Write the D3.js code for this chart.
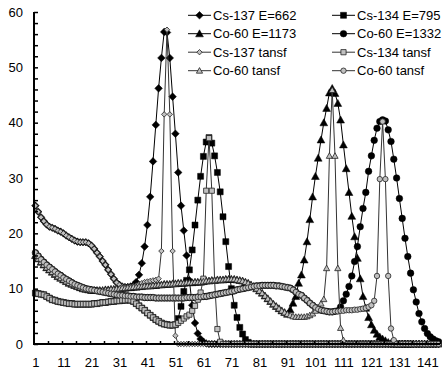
<!DOCTYPE html>
<html>
<head>
<meta charset="utf-8">
<title>Spectra</title>
<script src="https://cdn.jsdelivr.net/npm/d3@7"></script>
<style>
  body { margin: 0; background: #fff; }
  text { font-family: "Liberation Sans", Arial, sans-serif; font-size: 13px; fill: #000; }
</style>
</head>
<body>
<svg id="chart" width="442" height="374"></svg>
<script>
// channel numbers (categories)
const channels = d3.range(1, 146);
const xTickLabels = [1, 11, 21, 31, 41, 51, 61, 71, 81, 91, 101, 111, 121, 131, 141];
const yTicks = [0, 10, 20, 30, 40, 50, 60];

// series values, channel 1..145
const cs137 = [25.0,23.9,22.9,22.2,21.6,21.2,21.0,20.8,20.5,20.3, 20.0,19.6,19.3,19.0,18.7,18.5,18.4,18.4,18.4,18.2,
  17.8,17.2,16.5,15.8,15.0,14.3,13.4,12.6,11.8,11.1, 10.7,10.4,10.3,10.3,10.4,10.6,11.2,12.5,14.6,17.6,
  21.5,26.6,33.0,39.6,46.2,51.7,56.4,56.3,51.7,44.7, 38.0,31.0,25.0,20.5,16.0,11.5,7.0,3.8,1.9,0.9,
  0.4,0.1,0,0,0,0,0,0,0,0, 0,0,0,0,0,0,0,0,0,0, 0,0,0,0,0,0,0,0,0,0, 0,0,0,0,0,0,0,0,0,0,
  0,0,0,0,0,0,0,0,0,0, 0,0,0,0,0,0,0,0,0,0, 0,0,0,0,0,0,0,0,0,0, 0,0,0,0,0,0,0,0,0,0, 0,0,0,0,0];
const cs134 = [9.2,9.1,9.0,8.9,8.6,8.3,8.0,7.9,7.7,7.6, 7.5,7.4,7.3,7.3,7.2,7.2,7.2,7.2,7.2,7.2,
  7.2,7.3,7.3,7.4,7.5,7.5,7.6,7.7,7.7,7.8, 7.8,7.9,7.9,8.0,7.9,7.7,7.3,6.9,6.5,6.1,
  5.6,5.2,4.8,4.4,4.1,3.8,3.6,3.5,3.4,3.4, 3.5,4.6,6.8,9.5,11.5,13.4,17.0,21.5,26.0,30.3,
  33.9,36.5,37.3,36.3,34.0,31.0,27.5,23.0,18.5,14.0, 10.0,7.0,4.8,3.0,1.8,0.8,0.3,0,0,0,
  0,0,0,0,0,0,0,0,0,0, 0,0,0,0,0,0,0,0,0,0, 0,0,0,0,0,0,0,0,0,0, 0,0,0,0,0,0,0,0,0,0,
  0,0,0,0,0,0,0,0,0,0, 0,0,0,0,0];
const co1173 = [16.0,15.4,14.8,14.3,13.8,13.4,13.0,12.6,12.2,11.9, 11.6,11.3,11.0,10.8,10.6,10.4,10.2,10.0,9.9,9.8,
  9.7,9.7,9.7,9.7,9.7,9.8,9.8,9.9,9.9,10.0, 10.0,10.1,10.1,10.2,10.2,10.3,10.3,10.4,10.4,10.5,
  10.5,10.5,10.6,10.6,10.7,10.7,10.8,10.8,10.8,10.9, 10.9,11.0,11.0,11.0,11.1,11.1,11.1,11.2,11.2,11.2,
  11.3,11.4,11.4,11.5,11.5,11.6,11.6,11.6,11.7,11.7, 11.7,11.7,11.6,11.5,11.4,11.2,11.0,10.7,10.4,10.0,
  9.6,9.2,8.7,8.2,7.7,7.2,6.8,6.4,6.0,5.7, 5.4,6.2,7.4,8.6,11.0,12.5,15.2,18.5,22.5,26.6,
  30.3,33.6,36.9,40.0,42.6,45.4,46.2,45.3,43.5,40.5, 36.0,31.7,27.4,23.1,19.4,15.5,11.8,8.6,6.5,4.8,
  3.5,2.5,1.8,1.3,0.9,0.6,0.3,0.1,0,0, 0,0,0,0,0,0,0,0,0,0, 0,0,0,0,0];
const co1332 = [16.5,15.9,15.3,14.8,14.3,13.9,13.5,13.1,12.7,12.4, 12.0,11.7,11.4,11.1,10.8,10.6,10.4,10.2,10.0,9.9,
  9.8,9.7,9.6,9.5,9.4,9.3,9.2,9.1,9.0,8.9, 8.8,8.8,8.7,8.7,8.6,8.6,8.5,8.5,8.5,8.4,
  8.4,8.4,8.4,8.3,8.3,8.3,8.3,8.3,8.3,8.3, 8.3,8.3,8.3,8.3,8.4,8.4,8.4,8.4,8.5,8.5,
  8.6,8.6,8.7,8.8,8.9,9.0,9.1,9.2,9.3,9.4, 9.5,9.6,9.8,9.9,10.0,10.1,10.2,10.3,10.4,10.5,
  10.5,10.6,10.6,10.6,10.6,10.6,10.5,10.5,10.4,10.3, 10.2,10.1,9.8,9.4,9.0,8.8,8.3,7.9,7.4,7.0,
  6.6,6.3,6.1,6.0,5.9,5.8,5.8,5.9,6.0,6.7, 7.8,9.0,10.4,12.3,14.9,17.6,21.2,24.5,27.4,31.2,
  34.0,36.8,39.0,40.2,40.5,40.3,38.7,36.6,33.4,30.0, 26.3,22.7,19.1,15.8,12.8,9.8,7.6,5.5,4.0,2.8,
  1.9,1.3,0.9,0.6,0.4];
const cs137t = [25.0,23.9,22.9,22.2,21.6,21.2,21.0,20.8,20.5,20.3, 20.0,19.6,19.3,19.0,18.7,18.5,18.4,18.4,18.4,18.2,
  17.8,17.2,16.5,15.8,15.0,14.3,13.4,12.6,11.8,11.1, 10.7,10.4,10.3,10.3,10.4,10.5,10.6,10.8,11.0,11.2,
  11.3,11.4,11.5,11.6,11.8,16.8,41.5,56.8,41.5,16.8, 1.5,0,0,0,0,0,0,0,0,0,
  0,0,0,0,0,0,0,0,0,0, 0,0,0,0,0,0,0,0,0,0, 0,0,0,0,0,0,0,0,0,0, 0,0,0,0,0,0,0,0,0,0,
  0,0,0,0,0,0,0,0,0,0, 0,0,0,0,0,0,0,0,0,0, 0,0,0,0,0,0,0,0,0,0, 0,0,0,0,0,0,0,0,0,0, 0,0,0,0,0];
const cs134t = [9.2,9.1,9.0,8.9,8.6,8.3,8.0,7.9,7.7,7.6, 7.5,7.4,7.3,7.3,7.2,7.2,7.2,7.2,7.2,7.2,
  7.2,7.3,7.3,7.4,7.5,7.5,7.6,7.7,7.7,7.8, 7.8,7.9,7.9,8.0,7.9,7.7,7.3,6.9,6.5,6.1,
  5.6,5.2,4.8,4.4,4.1,3.8,3.6,3.5,3.4,3.4, 3.5,3.8,4.2,4.6,5.0,5.3,6.0,6.9,8.0,9.3,
  11.8,27.7,37.2,27.7,11.4,2.7,0.4,0,0,0, 0,0,0,0,0,0,0,0,0,0, 0,0,0,0,0,0,0,0,0,0,
  0,0,0,0,0,0,0,0,0,0, 0,0,0,0,0,0,0,0,0,0, 0,0,0,0,0,0,0,0,0,0, 0,0,0,0,0,0,0,0,0,0,
  0,0,0,0,0,0,0,0,0,0, 0,0,0,0,0];
const co1173t = [16.0,15.4,14.8,14.3,13.8,13.4,13.0,12.6,12.2,11.9, 11.6,11.3,11.0,10.8,10.6,10.4,10.2,10.0,9.9,9.8,
  9.7,9.7,9.7,9.7,9.7,9.8,9.8,9.9,9.9,10.0, 10.0,10.1,10.1,10.2,10.2,10.3,10.3,10.4,10.4,10.5,
  10.5,10.5,10.6,10.6,10.7,10.7,10.8,10.8,10.8,10.9, 10.9,11.0,11.0,11.0,11.1,11.1,11.1,11.2,11.2,11.2,
  11.3,11.4,11.4,11.5,11.5,11.6,11.6,11.6,11.7,11.7, 11.7,11.7,11.6,11.5,11.4,11.2,11.0,10.7,10.4,10.0,
  9.6,9.2,8.7,8.2,7.7,7.2,6.8,6.4,6.0,5.7, 5.4,5.2,5.0,4.9,4.9,4.9,4.9,5.0,5.2,5.5,
  6.0,6.6,7.3,8.1,13.7,34.0,45.9,34.0,13.7,2.9, 0.7,0,0,0,0,0,0,0,0,0,
  0,0,0,0,0,0,0,0,0,0, 0,0,0,0,0,0,0,0,0,0, 0,0,0,0,0];
const co1332t = [16.5,15.9,15.3,14.8,14.3,13.9,13.5,13.1,12.7,12.4, 12.0,11.7,11.4,11.1,10.8,10.6,10.4,10.2,10.0,9.9,
  9.8,9.7,9.6,9.5,9.4,9.3,9.2,9.1,9.0,8.9, 8.8,8.8,8.7,8.7,8.6,8.6,8.5,8.5,8.5,8.4,
  8.4,8.4,8.4,8.3,8.3,8.3,8.3,8.3,8.3,8.3, 8.3,8.3,8.3,8.3,8.4,8.4,8.4,8.4,8.5,8.5,
  8.6,8.6,8.7,8.8,8.9,9.0,9.1,9.2,9.3,9.4, 9.5,9.6,9.8,9.9,10.0,10.1,10.2,10.3,10.4,10.5,
  10.5,10.6,10.6,10.6,10.6,10.6,10.5,10.5,10.4,10.3, 10.2,10.1,9.8,9.4,9.0,8.8,8.3,7.9,7.4,7.0,
  6.6,6.3,6.1,6.0,5.9,5.8,5.8,5.9,5.9,6.0, 6.0,6.1,6.1,6.1,6.2,6.2,6.3,6.4,6.5,6.7,
  7.0,7.8,12.3,29.8,40.2,29.8,12.3,2.8,0.7,0, 0,0,0,0,0,0,0,0,0,0, 0,0,0,0,0];

const seriesNames = ["Cs-137 E=662", "Cs-134 E=795", "Co-60 E=1173", "Co-60 E=1332",
  "Cs-137 tansf", "Cs-134 tansf", "Co-60 tansf", "Co-60 tansf"];
const seriesValues = [cs137, cs134, co1173, co1332, cs137t, cs134t, co1173t, co1332t];
const seriesShapes = ["diamond", "square", "triangle", "circle", "diamond", "square", "triangle", "circle"];

// page elements
const svg = d3.select("#chart");
const margin = { top: 12, right: 2, bottom: 30, left: 34 };

const x = d3.scaleLinear()
  .domain([0.5, channels.length + 0.5])
  .range([margin.left, margin.left + channels.length * 2.8]);
const y = d3.scaleLinear()
  .domain([0, 60])
  .range([344, 12]);

function markerPath(shape, s) {
  if (shape == "diamond") return "M0," + (-s) + "L" + s + ",0L0," + s + "L" + (-s) + ",0Z";
  if (shape == "square") return "M" + (-s) + "," + (-s) + "H" + s + "V" + s + "H" + (-s) + "Z";
  if (shape == "triangle") return "M0," + (-s) + "L" + s + "," + (s * 0.8) + "L" + (-s) + "," + (s * 0.8) + "Z";
  return d3.symbol(d3.symbolCircle, Math.PI * s * s)();
}
const blackSize = { diamond: 3.8, square: 3.0, triangle: 3.9, circle: 3.3 };
const greySize = { diamond: 2.7, square: 2.6, triangle: 3.1, circle: 2.7 };

function styleFor(i) {
  const tansf = i >= 4;
  const shape = seriesShapes[i];
  return {
    path: markerPath(shape, tansf ? greySize[shape] : blackSize[shape]),
    fill: tansf ? "#c0c0c0" : "#000",
    stroke: tansf ? "#222" : "#000",
    strokeWidth: tansf ? 0.8 : 0.5,
    line: tansf ? "#333" : "#000"
  };
}

const line = d3.line()
  .x(function(d, i) { return x(channels[i]); })
  .y(function(d) { return y(d); });

const plot = svg.append("g");
seriesValues.forEach(function(vals, i) {
  const st = styleFor(i);
  const g = plot.append("g");
  g.append("path")
    .attr("d", line(vals))
    .attr("fill", "none")
    .attr("stroke", st.line)
    .attr("stroke-width", 1);
  g.selectAll("path.m")
    .data(vals)
    .enter().append("path")
      .classed("m", true)
      .attr("d", st.path)
      .attr("transform", function(d, j) { return "translate(" + x(channels[j]) + "," + y(d) + ")"; })
      .attr("fill", st.fill)
      .attr("stroke", st.stroke)
      .attr("stroke-width", st.strokeWidth);
});

// axes
const xTickMarks = channels.filter(function(c) { return c % 5 == 0; }).map(function(c) { return c + 0.5; });
const xAxisTicks = d3.axisBottom(x).tickValues(xTickMarks).tickSize(-3).tickFormat("").tickSizeOuter(0);
const xAxisLabels = d3.axisBottom(x).tickValues(xTickLabels).tickSize(0).tickPadding(14).tickFormat(d3.format("d"));
const yAxis = d3.axisLeft(y).tickValues(d3.range(0, 61, 2)).tickSize(-4).tickSizeOuter(0).tickPadding(11)
  .tickFormat(function(d) { return yTicks.indexOf(d) >= 0 ? d : ""; });

const gx = svg.append("g").attr("transform", "translate(0,344)");
gx.call(xAxisTicks);
gx.append("g").call(xAxisLabels).select(".domain").remove();
const gy = svg.append("g").attr("transform", "translate(" + margin.left + ",0)").call(yAxis);
svg.selectAll(".domain").attr("stroke", "#000").attr("stroke-width", 2);
svg.selectAll(".tick line").attr("stroke", "#000").attr("stroke-width", 1.5);
svg.selectAll(".tick text").style("font-size", "13px").attr("fill", "#000")
  .style("font-family", "'Liberation Sans', Arial, sans-serif");
// axis lines drawn to full extents
gx.select(".domain").attr("d", "M" + (margin.left - 1) + ",0H" + x(channels.length + 0.5));
gy.select(".domain").attr("d", "M0," + (y(0) + 1) + "V" + y(60));

// legend
const legendCols = [188, 332];
const legendRows = [15.3, 33.7, 52.2, 70.7];
const legend = svg.append("g");
seriesNames.forEach(function(name, i) {
  const st = styleFor(i);
  const col = i % 2, row = Math.floor(i / 2);
  const lx = legendCols[col], ly = legendRows[row];
  const item = legend.append("g").attr("transform", "translate(" + lx + "," + ly + ")");
  item.append("line").attr("x1", 0).attr("x2", 23).attr("y1", 0).attr("y2", 0)
    .attr("stroke", st.line).attr("stroke-width", 1);
  item.append("path").attr("d", st.path).attr("transform", "translate(11.5,0)")
    .attr("fill", st.fill).attr("stroke", st.stroke).attr("stroke-width", st.strokeWidth);
  item.append("text").attr("x", 25).attr("dy", "0.36em").text(name);
});
</script>
</body>
</html>
